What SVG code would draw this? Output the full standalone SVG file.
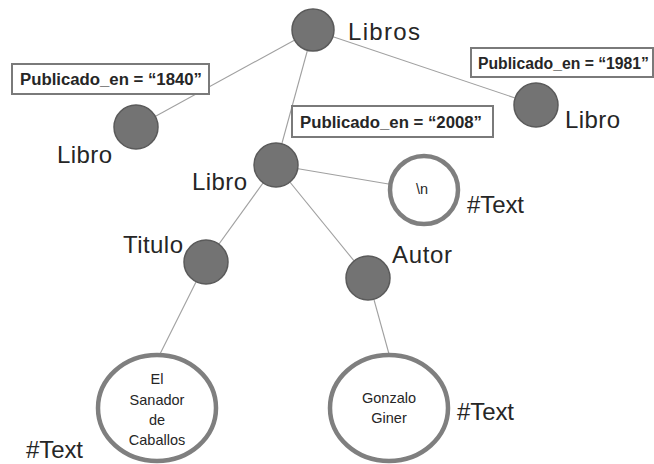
<svg xmlns="http://www.w3.org/2000/svg" width="654" height="464" viewBox="0 0 654 464">
<style>
.edge{stroke:#a0a0a0;stroke-width:1.1;fill:none}
.el{fill:#737373;stroke:#5a5a5a;stroke-width:1.5}
.tx{fill:#fff;stroke:#7f7f7f;stroke-width:4.5}
.lbl{font-family:"Liberation Sans",Arial,sans-serif;font-size:24px;fill:#262626}
.box{fill:#fff;stroke:#7a7a7a;stroke-width:2}
.bt{font-family:"Liberation Sans",Arial,sans-serif;font-size:16px;font-weight:bold;fill:#262626}
.in{font-family:"Liberation Sans",Arial,sans-serif;font-size:14.5px;fill:#262626;text-anchor:middle}
</style>
<rect width="654" height="464" fill="#fff"/>
<g id="connectors">
<line class="edge" x1="313" y1="30" x2="136" y2="127"/>
<line class="edge" x1="313" y1="30" x2="276" y2="165"/>
<line class="edge" x1="313" y1="30" x2="536" y2="105"/>
<line class="edge" x1="276" y1="165" x2="424" y2="190"/>
<line class="edge" x1="276" y1="165" x2="206" y2="262"/>
<line class="edge" x1="276" y1="165" x2="368" y2="278"/>
<line class="edge" x1="206" y1="262" x2="160" y2="354"/>
<line class="edge" x1="368" y1="278" x2="389" y2="354"/>
</g>
<g id="libros">
<circle class="el" cx="313" cy="30" r="21"/>
<text class="lbl" x="348" y="40" font-size="26" textLength="72">Libros</text>
</g>
<g id="libro1840">
<circle class="el" cx="136" cy="127" r="22"/>
<text class="lbl" x="57" y="163" textLength="55">Libro</text>
<rect class="box" x="12" y="64" width="197" height="30"/>
<text class="bt" x="20" y="85" textLength="182" lengthAdjust="spacingAndGlyphs">Publicado_en = “1840”</text>
</g>
<g id="libro2008">
<circle class="el" cx="276" cy="165" r="22"/>
<text class="lbl" x="192" y="190" textLength="55">Libro</text>
<rect class="box" x="292" y="106" width="201" height="31"/>
<text class="bt" x="300" y="128" textLength="182" lengthAdjust="spacingAndGlyphs">Publicado_en = “2008”</text>
</g>
<g id="libro1981">
<circle class="el" cx="536" cy="105" r="22"/>
<text class="lbl" x="565" y="128" textLength="55">Libro</text>
<rect class="box" x="471" y="48" width="182" height="29"/>
<text class="bt" x="478" y="69" textLength="171" lengthAdjust="spacingAndGlyphs">Publicado_en = “1981”</text>
</g>
<g id="textn">
<circle class="tx" cx="424" cy="190" r="34"/>
<text class="in" x="422" y="194">\n</text>
<text class="lbl" x="467" y="213" textLength="57">#Text</text>
</g>
<g id="titulo">
<circle class="el" cx="206" cy="262" r="22"/>
<text class="lbl" x="123" y="253" textLength="60">Titulo</text>
</g>
<g id="autor">
<circle class="el" cx="368" cy="278" r="22"/>
<text class="lbl" x="392" y="263" textLength="60">Autor</text>
</g>
<g id="sanador">
<ellipse class="tx" cx="157" cy="408" rx="59" ry="53"/>
<text class="in" x="157" y="384">El</text>
<text class="in" x="157" y="405">Sanador</text>
<text class="in" x="157" y="425">de</text>
<text class="in" x="157" y="445">Caballos</text>
<text class="lbl" x="26" y="458" textLength="57">#Text</text>
</g>
<g id="gonzalo">
<ellipse class="tx" cx="389" cy="408" rx="59" ry="53"/>
<text class="in" x="389" y="403">Gonzalo</text>
<text class="in" x="389" y="423">Giner</text>
<text class="lbl" x="457" y="420" textLength="57">#Text</text>
</g>
</svg>
